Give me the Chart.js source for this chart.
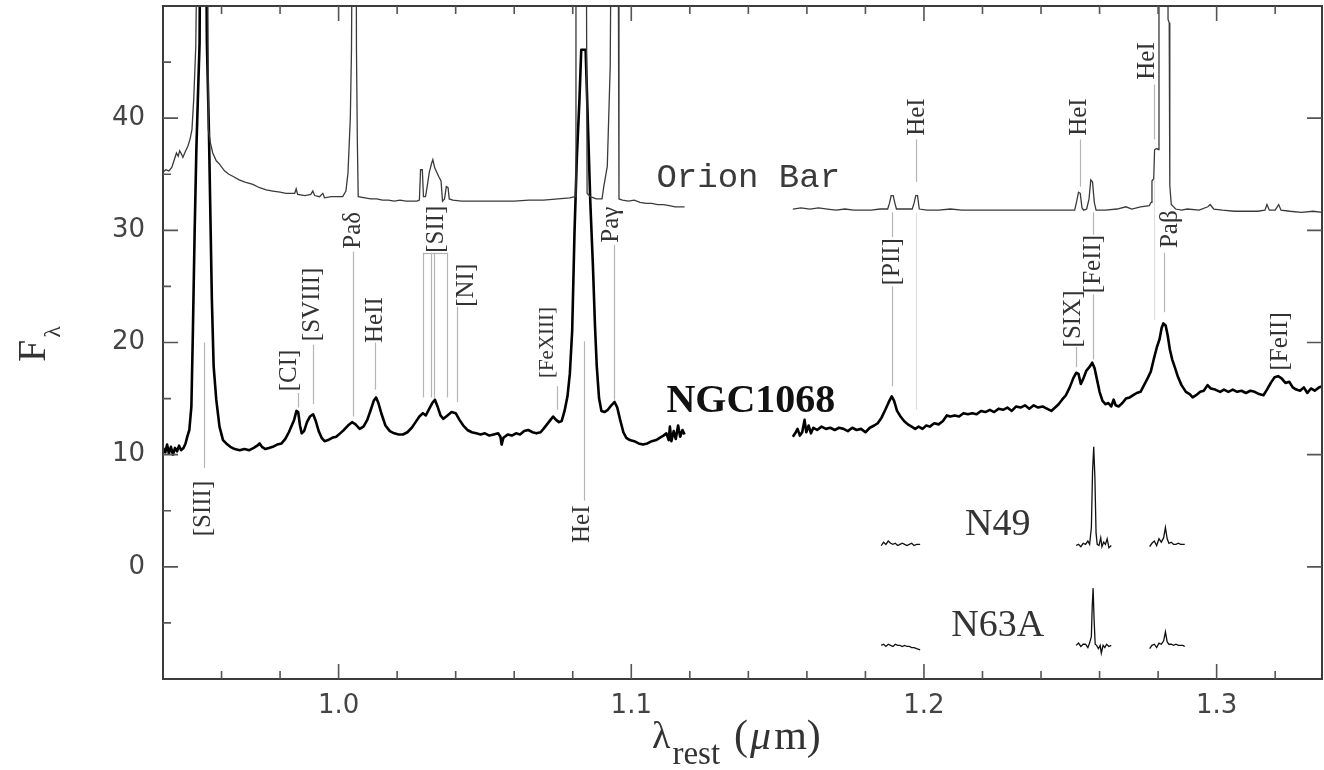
<!DOCTYPE html>
<html>
<head>
<meta charset="utf-8">
<script src="https://cdn.jsdelivr.net/npm/chart.js@4.4.1/dist/chart.umd.min.js"></script>
<style>
  html, body { margin: 0; padding: 0; background: #fff; }
  #wrap { width: 1324px; height: 770px; }
</style>
</head>
<body>
<div id="wrap"><canvas id="spec" width="1324" height="770"></canvas></div>
<script>
// axis ticks
const xTickValues = [1.0, 1.1, 1.2, 1.3];
const xMinorTicks = [0.96, 0.98, 1.02, 1.04, 1.06, 1.08, 1.12, 1.14, 1.16, 1.18, 1.22, 1.24, 1.26, 1.28, 1.32];
const yTickValues = [0, 10, 20, 30, 40];
const yMinorTicks = [-5, 5, 15, 25, 35, 45];

// NGC1068 (null = gap in coverage)
const ngcWave = [
  0.9400, 0.9408, 0.9414, 0.9420, 0.9427, 0.9434, 0.9441, 0.9448, 0.9455, 0.9462, 0.9470, 0.9477, 0.9484, 0.9490,
  0.9497, 0.9502, 0.9508, 0.9514, 0.9520, 0.9525, 0.9530, 0.9542, 0.9550, 0.9557, 0.9562, 0.9567, 0.9573, 0.9582,
  0.9593, 0.9605, 0.9616, 0.9630, 0.9645, 0.9662, 0.9678, 0.9695, 0.9710, 0.9722, 0.9730, 0.9738, 0.9750, 0.9762,
  0.9775, 0.9790, 0.9805, 0.9818, 0.9830, 0.9840, 0.9848, 0.9856, 0.9862, 0.9868, 0.9874, 0.9882, 0.9892, 0.9902,
  0.9913, 0.9922, 0.9932, 0.9942, 0.9952, 0.9964, 0.9978, 0.9992, 1.0005, 1.0018, 1.0032, 1.0046, 1.0058, 1.0072,
  1.0085, 1.0098, 1.0110, 1.0120, 1.0128, 1.0136, 1.0147, 1.0160, 1.0175, 1.0190, 1.0205, 1.0220, 1.0235, 1.0250,
  1.0263, 1.0276, 1.0288, 1.0298, 1.0310, 1.0320, 1.0329, 1.0338, 1.0348, 1.0358, 1.0372, 1.0386, 1.0400, 1.0413,
  1.0426, 1.0440, 1.0455, 1.0470, 1.0485, 1.0500, 1.0515, 1.0530, 1.0545, 1.0553, 1.0557, 1.0563, 1.0578, 1.0592,
  1.0606, 1.0620, 1.0634, 1.0648, 1.0662, 1.0676, 1.0690, 1.0700, 1.0712, 1.0724, 1.0733, 1.0743, 1.0753, 1.0762,
  1.0772, 1.0782, 1.0790, 1.0798, 1.0806, 1.0814, 1.0823, 1.0829, 1.0844, 1.0852, 1.0860, 1.0869, 1.0876, 1.0882,
  1.0890, 1.0898, 1.0908, 1.0920, 1.0932, 1.0943, 1.0952, 1.0962, 1.0973, 1.0983, 1.0995, 1.1010, 1.1025, 1.1040,
  1.1055, 1.1070, 1.1085, 1.1097, 1.1110, 1.1120, 1.1128, 1.1132, 1.1137, 1.1145, 1.1152, 1.1160, 1.1167, 1.1175,
  1.1182, 1.1350,
  1.1552, 1.1560, 1.1568, 1.1576, 1.1584, 1.1592, 1.1598, 1.1606, 1.1614, 1.1622, 1.1635, 1.1650, 1.1665, 1.1680,
  1.1695, 1.1710, 1.1725, 1.1740, 1.1755, 1.1770, 1.1785, 1.1800, 1.1815, 1.1830, 1.1842, 1.1855, 1.1868, 1.1880,
  1.1890, 1.1898, 1.1908, 1.1920, 1.1932, 1.1945, 1.1958, 1.1970, 1.1982, 1.1995, 1.2008, 1.2020, 1.2035, 1.2050,
  1.2065, 1.2078, 1.2090, 1.2105, 1.2120, 1.2135, 1.2150, 1.2165, 1.2180, 1.2195, 1.2210, 1.2225, 1.2240, 1.2255,
  1.2270, 1.2285, 1.2300, 1.2315, 1.2330, 1.2345, 1.2360, 1.2375, 1.2390, 1.2405, 1.2420, 1.2435, 1.2448, 1.2460,
  1.2472, 1.2485, 1.2498, 1.2510, 1.2520, 1.2528, 1.2536, 1.2545, 1.2555, 1.2565, 1.2575, 1.2583, 1.2592, 1.2600,
  1.2610, 1.2620, 1.2630, 1.2640, 1.2648, 1.2655, 1.2665, 1.2678, 1.2690, 1.2703, 1.2715, 1.2727, 1.2740, 1.2752,
  1.2764, 1.2775, 1.2786, 1.2796, 1.2805, 1.2812, 1.2818, 1.2826, 1.2833, 1.2840, 1.2848, 1.2857, 1.2867, 1.2880,
  1.2895, 1.2908, 1.2918, 1.2930, 1.2944, 1.2956, 1.2969, 1.2980, 1.2995, 1.3012, 1.3025, 1.3040, 1.3055, 1.3070,
  1.3085, 1.3100, 1.3115, 1.3130, 1.3145, 1.3160, 1.3172, 1.3185, 1.3198, 1.3210, 1.3222, 1.3235, 1.3248, 1.3260,
  1.3272, 1.3285, 1.3298, 1.3310, 1.3322, 1.3335, 1.3350, 1.3360
];
const ngcFlux = [
  10.6, 10.2, 10.9, 10.1, 10.7, 10.0, 10.6, 10.3, 10.8, 10.4, 10.6, 11.0, 11.7, 12.2,
  14.3, 20.8, 29.7, 37.2, 42.5, 46.7, 75.0, 75.0, 46.7, 38.7, 31.2, 23.8, 17.9, 14.9,
  12.5, 11.3, 11.0, 10.7, 10.5, 10.4, 10.5, 10.4, 10.6, 10.8, 11.0, 10.7, 10.5, 10.6,
  10.7, 10.9, 11.0, 11.4, 12.0, 12.6, 13.1, 13.9, 13.8, 12.6, 11.9, 12.1, 12.9, 13.4,
  13.6, 13.0, 12.1, 11.5, 11.2, 11.3, 11.5, 11.6, 11.9, 12.2, 12.6, 12.9, 12.7, 12.3,
  12.5, 13.1, 14.0, 14.8, 15.1, 14.6, 13.6, 12.6, 12.1, 11.9, 11.8, 11.8, 12.0, 12.4,
  12.9, 13.4, 13.7, 13.5, 14.1, 14.6, 14.9, 14.3, 13.5, 13.2, 13.5, 13.8, 13.7, 13.1,
  12.6, 12.2, 12.0, 11.9, 11.8, 11.9, 11.7, 11.8, 11.9, 11.6, 10.9, 11.5, 11.8, 11.7,
  11.9, 11.8, 12.1, 12.2, 12.0, 11.9, 12.0, 12.3, 12.7, 13.1, 13.4, 13.1, 12.9, 13.0,
  13.9, 15.2, 17.2, 21.0, 29.8, 36.5, 41.7, 46.1, 46.1, 39.3, 32.5, 26.8, 21.5, 17.9,
  15.0, 13.9, 13.8, 14.0, 14.4, 14.7, 14.2, 13.1, 12.0, 11.5, 11.3, 11.2, 11.0, 10.9,
  11.0, 11.2, 11.3, 11.5, 11.7, 11.9, 11.3, 12.5, 11.2, 12.1, 11.4, 12.6, 11.6, 12.2,
  11.8, null,
  11.6, 11.9, 12.3, 11.7, 12.0, 13.1, 12.0, 12.6, 11.9, 12.4, 12.2, 12.5, 12.3, 12.4,
  12.2, 12.4, 12.3, 12.1, 12.4, 12.2, 12.3, 12.0, 12.4, 12.6, 12.8, 13.3, 14.0, 14.7,
  15.2, 14.8, 13.9, 13.4, 13.0, 12.7, 12.5, 12.3, 12.5, 12.3, 12.6, 12.5, 12.8, 12.7,
  13.0, 13.5, 13.4, 13.5, 13.4, 13.7, 13.6, 13.7, 13.6, 13.9, 13.8, 14.0, 13.8, 14.1,
  14.0, 14.2, 13.9, 14.3, 14.2, 14.4, 14.1, 14.4, 14.2, 14.3, 14.1, 13.9, 14.2, 14.5,
  14.9, 15.3, 16.0, 16.8, 17.3, 17.2, 16.3, 16.8, 17.5, 17.8, 18.2, 17.7, 16.6, 15.6,
  14.8, 14.5, 14.6, 14.3, 14.9, 14.4, 14.3, 14.6, 15.0, 15.1, 15.3, 15.5, 15.6, 16.2,
  16.8, 17.4, 18.6, 19.6, 20.3, 21.3, 21.7, 21.5, 20.6, 19.4, 18.5, 17.8, 17.0, 16.2,
  15.6, 15.4, 15.1, 15.3, 15.6, 15.7, 16.2, 15.9, 15.8, 15.6, 15.8, 15.6, 15.8, 15.6,
  15.7, 15.5, 15.7, 15.6, 15.4, 15.3, 15.8, 16.4, 16.9, 17.0, 16.8, 16.4, 16.5, 16.0,
  15.8, 15.7, 16.0, 15.5, 15.9, 15.7, 16.0, 16.1
];

// Orion Bar
const orionWave = [
  0.9400, 0.9410, 0.9420, 0.9430, 0.9440, 0.9446, 0.9452, 0.9457, 0.9463, 0.9468, 0.9476, 0.9485, 0.9493, 0.9499,
  0.9505, 0.9512, 0.9518, 0.9522, 0.9548, 0.9552, 0.9555, 0.9562, 0.9570, 0.9582, 0.9593, 0.9610, 0.9625, 0.9640,
  0.9660, 0.9680, 0.9707, 0.9730, 0.9753, 0.9775, 0.9800, 0.9820, 0.9840, 0.9850, 0.9855, 0.9860, 0.9885, 0.9905,
  0.9912, 0.9918, 0.9935, 0.9946, 0.9952, 0.9975, 1.0000, 1.0014, 1.0025, 1.0032, 1.0040, 1.0044, 1.0047, 1.0050,
  1.0058, 1.0061, 1.0064, 1.0067, 1.0090, 1.0110, 1.0130, 1.0150, 1.0170, 1.0190, 1.0210, 1.0230, 1.0250, 1.0268,
  1.0276, 1.0280, 1.0286, 1.0290, 1.0297, 1.0302, 1.0310, 1.0318, 1.0322, 1.0328, 1.0335, 1.0342, 1.0350, 1.0355,
  1.0362, 1.0368, 1.0374, 1.0378, 1.0390, 1.0420, 1.0460, 1.0500, 1.0550, 1.0600, 1.0650, 1.0700, 1.0750, 1.0790,
  1.0808, 1.0811, 1.0815, 1.0842, 1.0846, 1.0849, 1.0860, 1.0880, 1.0900, 1.0906, 1.0918, 1.0928, 1.0932, 1.0935,
  1.0952, 1.0955, 1.0958, 1.0970, 1.0990, 1.1010, 1.1030, 1.1050, 1.1070, 1.1090, 1.1110, 1.1130, 1.1150, 1.1182,
  1.1350,
  1.1552, 1.1580, 1.1610, 1.1640, 1.1670, 1.1700, 1.1730, 1.1760, 1.1790, 1.1820, 1.1850, 1.1876, 1.1882, 1.1888,
  1.1895, 1.1900, 1.1906, 1.1930, 1.1960, 1.1966, 1.1972, 1.1978, 1.1984, 1.2010, 1.2050, 1.2090, 1.2130, 1.2170,
  1.2210, 1.2250, 1.2290, 1.2330, 1.2370, 1.2410, 1.2450, 1.2490, 1.2515, 1.2522, 1.2528, 1.2534, 1.2540, 1.2546,
  1.2556, 1.2564, 1.2570, 1.2576, 1.2582, 1.2588, 1.2620, 1.2660, 1.2690, 1.2710, 1.2740, 1.2770, 1.2776, 1.2779,
  1.2785, 1.2788, 1.2796, 1.2800, 1.2803, 1.2806, 1.2830, 1.2834, 1.2838, 1.2840, 1.2845, 1.2860, 1.2880, 1.2900,
  1.2940, 1.2970, 1.2978, 1.2990, 1.3020, 1.3060, 1.3100, 1.3140, 1.3165, 1.3172, 1.3180, 1.3200, 1.3212, 1.3220,
  1.3250, 1.3290, 1.3330, 1.3360
];
const orionFlux = [
  35.2, 35.4, 35.3, 35.6, 36.4, 36.9, 36.6, 37.1, 36.8, 36.5, 37.0, 37.5, 38.2, 39.0,
  41.7, 46.4, 60.0, 85.0, 85.0, 60.0, 39.0, 37.8, 36.9, 36.2, 35.9, 35.3, 35.0, 34.8,
  34.5, 34.3, 34.1, 33.8, 33.6, 33.5, 33.4, 33.3, 33.3, 33.3, 33.7, 33.2, 33.1, 33.2,
  33.5, 33.1, 33.0, 33.3, 32.9, 33.0, 33.0, 33.0, 33.5, 35.1, 40.0, 46.1, 60.0, 85.0,
  85.0, 46.1, 38.0, 33.0, 32.9, 32.8, 32.8, 32.7, 32.7, 32.6, 32.7, 32.6, 32.6, 32.6,
  32.7, 35.4, 35.4, 33.0, 33.0, 33.8, 35.2, 36.0, 36.3, 35.6, 35.2, 34.8, 34.4, 32.6,
  32.8, 33.9, 33.8, 32.8, 32.7, 32.6, 32.6, 32.6, 32.6, 32.6, 32.7, 32.7, 32.8, 32.9,
  33.0, 60.0, 85.0, 85.0, 60.0, 33.3, 33.0, 32.8, 32.8, 33.9, 35.7, 44.6, 60.0, 85.0,
  85.0, 60.0, 32.8, 32.7, 32.6, 32.7, 32.5, 32.4, 32.4, 32.3, 32.3, 32.2, 32.1, 32.1,
  null,
  31.9, 32.0, 31.9, 32.0, 31.9, 31.8, 31.9, 31.8, 31.8, 31.8, 31.9, 31.9, 32.4, 33.1,
  33.1, 32.5, 31.9, 31.9, 31.9, 32.4, 33.1, 33.1, 31.9, 31.8, 31.8, 31.9, 31.8, 31.8,
  31.8, 31.8, 31.8, 31.8, 31.8, 31.8, 31.8, 31.8, 31.8, 32.6, 33.4, 33.3, 32.0, 31.8,
  31.9, 32.8, 34.5, 34.3, 32.5, 31.8, 31.8, 31.9, 32.1, 31.9, 32.1, 32.2, 32.5, 34.4,
  34.6, 37.2, 37.3, 37.2, 60.0, 85.0, 85.0, 48.8, 48.5, 34.0, 32.3, 31.9, 31.8, 31.9,
  31.8, 32.1, 32.3, 31.9, 31.8, 31.7, 31.7, 31.7, 31.8, 32.3, 31.8, 31.8, 32.3, 31.8,
  31.7, 31.6, 31.7, 31.6
];

// N49 (three short windows)
const n49Wave = [
  1.1854, 1.1862, 1.1870, 1.1878, 1.1886, 1.1894, 1.1902, 1.1910, 1.1918, 1.1926, 1.1934, 1.1942, 1.1950, 1.1958,
  1.1966, 1.1975, 1.1987, 1.2200,
  1.2520, 1.2528, 1.2536, 1.2544, 1.2552, 1.2560, 1.2566, 1.2572, 1.2576, 1.2580, 1.2584, 1.2588, 1.2592, 1.2598,
  1.2604, 1.2608, 1.2614, 1.2620, 1.2626, 1.2632, 1.2640, 1.2700,
  1.2771, 1.2779, 1.2787, 1.2795, 1.2803, 1.2811, 1.2819, 1.2825, 1.2831, 1.2837, 1.2845, 1.2853, 1.2861, 1.2869,
  1.2877, 1.2885, 1.2891
];
const n49Flux = [
  1.9, 2.2, 2.0, 2.3, 2.1, 2.0, 2.1, 1.9, 2.0, 2.1, 2.0, 1.9, 2.0, 2.1,
  1.9, 2.0, 2.0, null,
  1.9, 2.0, 1.8, 2.1, 2.0, 2.3, 2.0, 3.5, 8.5, 10.7, 8.0, 3.0, 2.0, 1.9,
  2.6, 1.8, 2.2, 2.0, 2.5, 1.7, 1.9, null,
  1.8, 2.1, 2.3, 1.9, 2.5, 2.2, 2.6, 3.5, 2.5, 2.1, 2.2, 2.0, 2.0, 2.1,
  2.0, 2.0, 2.0
];

// N63A
const n63Wave = [
  1.1854, 1.1862, 1.1870, 1.1878, 1.1886, 1.1894, 1.1902, 1.1910, 1.1918, 1.1926, 1.1934, 1.1942, 1.1950, 1.1958,
  1.1966, 1.1975, 1.1987, 1.2200,
  1.2520, 1.2528, 1.2536, 1.2544, 1.2552, 1.2560, 1.2566, 1.2572, 1.2575, 1.2578, 1.2581, 1.2585, 1.2590, 1.2596,
  1.2602, 1.2606, 1.2612, 1.2618, 1.2624, 1.2632, 1.2640, 1.2700,
  1.2771, 1.2779, 1.2787, 1.2795, 1.2803, 1.2811, 1.2819, 1.2825, 1.2831, 1.2837, 1.2845, 1.2853, 1.2861, 1.2869,
  1.2877, 1.2885, 1.2891
];
const n63Flux = [
  -7.0, -6.9, -7.1, -6.9, -7.0, -7.1, -6.9, -7.0, -7.0, -7.1, -7.0, -7.1, -7.1, -7.2,
  -7.2, -7.3, -7.4, null,
  -7.0, -6.8, -7.1, -6.9, -6.9, -7.2, -6.8, -6.2, -3.5, -1.9, -4.5, -6.9, -7.0, -7.3,
  -7.0, -7.7, -7.0, -7.2, -6.9, -7.1, -7.0, null,
  -7.3, -7.0, -6.9, -7.2, -6.8, -6.9, -6.6, -5.8, -6.7, -6.9, -6.9, -7.0, -6.9, -7.0,
  -7.0, -7.0, -7.1
];

// line identifications: wl = marker position, tx = text position if shifted, ty = text centre,
// segs = marker pieces [top, bottom] in flux units
const lineIds = [
  { label: '[SIII]',  wl: 0.9539, ty: 5.2,  segs: [[20.0, 8.8]] },
  { label: '[CI]',    wl: 0.9861, tx: 0.9831, ty: 17.5, segs: [[15.5, 14.2]] },
  { label: '[SVIII]', wl: 0.9912, ty: 23.4, segs: [[19.8, 14.5]] },
  { label: 'Paδ',     wl: 1.0049, ty: 30.0, segs: [[28.1, 13.4]] },
  { label: 'HeII',    wl: 1.0126, ty: 22.0, segs: [[20.0, 15.8]] },
  { label: '[SII]',   wl: [1.0288, 1.0317, 1.0325, 1.0371], tx: 1.0334, ty: 30.1, segs: [[28.0, 15.1]], bracket: 28.0 },
  { label: '[NI]',    wl: 1.0404, tx: 1.0438, ty: 25.1, segs: [[23.2, 14.7]] },
  { label: '[FeXIII]', wl: 1.0746, tx: 1.0714, ty: 20.0, segs: [[16.1, 14.0]], small: true },
  { label: 'HeI',     wl: 1.0837, tx: 1.0832, ty: 3.8, segs: [[20.1, 5.9]] },
  { label: 'Paγ',     wl: 1.0941, tx: 1.0932, ty: 30.5, segs: [[28.7, 14.9]] },
  { label: '[PII]',   wl: 1.1892, ty: 27.2, segs: [[31.6, 29.4], [25.0, 16.1]] },
  { label: 'HeI',     wl: 1.1974, tx: 1.1978, ty: 40.1, segs: [[38.1, 34.3]], faint: [[31.6, 14.0]] },
  { label: 'HeI',     wl: 1.2532, ty: 40.1, segs: [[38.1, 33.9]] },
  { label: '[SIX]',   wl: 1.2521, tx: 1.2511, ty: 22.1, segs: [[19.6, 17.8]] },
  { label: '[FeII]',  wl: 1.2578, ty: 27.0, segs: [[31.6, 29.6], [24.3, 18.5]] },
  { label: 'HeI',     wl: 1.2787, tx: 1.2765, ty: 45.1, segs: [[43.0, 38.1]], faint: [[34.5, 22.0]] },
  { label: 'Paβ',     wl: 1.2819, tx: 1.2842, ty: 30.1, segs: [[28.0, 22.7]] },
  { label: '[FeII]',  wl: 1.3218, ty: 20.1, segs: [] }
];

// object names: [text, wavelength, flux, align]
const objectNames = [
  ['Orion Bar', 1.1086, 33.9, 'left'],
  ['NGC1068', 1.1120, 13.8, 'left'],
  ['N49', 1.2252, 2.85, 'center'],
  ['N63A', 1.2252, -6.2, 'center']
];

function toPoints(wave, flux) {
  return wave.map((w, i) => ({ x: w, y: flux[i] }));
}

const decor = {
  id: 'decor',
  beforeDatasetsDraw(chart) {
    const { ctx, scales: { x, y } } = chart;
    ctx.save();
    ctx.lineWidth = 1.2;
    for (const id of lineIds) {
      const wls = Array.isArray(id.wl) ? id.wl : [id.wl];
      for (const w of wls) {
        const px = Math.round(x.getPixelForValue(w)) + 0.5;
        ctx.strokeStyle = '#b4b4b4';
        for (const [t, b] of id.segs) {
          ctx.beginPath();
          ctx.moveTo(px, y.getPixelForValue(t));
          ctx.lineTo(px, y.getPixelForValue(b));
          ctx.stroke();
        }
        if (id.faint) {
          ctx.strokeStyle = '#dedede';
          for (const [t, b] of id.faint) {
            ctx.beginPath();
            ctx.moveTo(px, y.getPixelForValue(t));
            ctx.lineTo(px, y.getPixelForValue(b));
            ctx.stroke();
          }
        }
      }
      if (id.bracket) {
        ctx.strokeStyle = '#b4b4b4';
        const py = Math.round(y.getPixelForValue(id.bracket)) + 0.5;
        ctx.beginPath();
        ctx.moveTo(x.getPixelForValue(wls[0]), py);
        ctx.lineTo(x.getPixelForValue(wls[wls.length - 1]), py);
        ctx.stroke();
      }
    }
    ctx.restore();
  },
  afterDatasetsDraw(chart) {
    const { ctx, chartArea: a, scales: { x, y } } = chart;
    ctx.save();

    // line labels, rotated
    ctx.fillStyle = '#333';
    ctx.textAlign = 'center';
    ctx.textBaseline = 'middle';
    for (const id of lineIds) {
      const w = id.tx !== undefined ? id.tx : id.wl;
      ctx.save();
      ctx.translate(x.getPixelForValue(w), y.getPixelForValue(id.ty));
      ctx.rotate(-Math.PI / 2);
      ctx.font = (id.small ? '21px' : '25px') + ' "Liberation Serif"';
      ctx.fillText(id.label, 0, 0);
      ctx.restore();
    }

    // object names
    ctx.textBaseline = 'alphabetic';
    for (const [name, w, f, align] of objectNames) {
      ctx.textAlign = align;
      if (name === 'Orion Bar') { ctx.font = '34px "Liberation Mono"'; ctx.fillStyle = '#3a3a3a'; }
      else if (name === 'NGC1068') { ctx.font = 'bold 40px "Liberation Serif"'; ctx.fillStyle = '#111'; }
      else { ctx.font = '38px "Liberation Serif"'; ctx.fillStyle = '#333'; }
      ctx.fillText(name, x.getPixelForValue(w), y.getPixelForValue(f));
    }

    // frame and inward ticks
    ctx.strokeStyle = '#3c3c3c';
    ctx.lineWidth = 2;
    ctx.strokeRect(a.left, a.top, a.right - a.left, a.bottom - a.top);
    ctx.lineWidth = 1.6;
    ctx.strokeStyle = '#555';
    ctx.beginPath();
    for (const v of xTickValues) {
      const px = x.getPixelForValue(v);
      ctx.moveTo(px, a.bottom); ctx.lineTo(px, a.bottom - 15);
      ctx.moveTo(px, a.top); ctx.lineTo(px, a.top + 15);
    }
    for (const v of xMinorTicks) {
      const px = x.getPixelForValue(v);
      ctx.moveTo(px, a.bottom); ctx.lineTo(px, a.bottom - 8);
      ctx.moveTo(px, a.top); ctx.lineTo(px, a.top + 8);
    }
    for (const v of yTickValues) {
      const py = y.getPixelForValue(v);
      ctx.moveTo(a.left, py); ctx.lineTo(a.left + 15, py);
      ctx.moveTo(a.right, py); ctx.lineTo(a.right - 15, py);
    }
    for (const v of yMinorTicks) {
      const py = y.getPixelForValue(v);
      ctx.moveTo(a.left, py); ctx.lineTo(a.left + 8, py);
    }
    ctx.stroke();

    // axis titles
    ctx.fillStyle = '#333';
    ctx.textAlign = 'left';
    ctx.textBaseline = 'alphabetic';
    let px = 652;
    ctx.font = '38px "Liberation Serif"';
    ctx.fillText('λ', px, 748);
    px += ctx.measureText('λ').width + 2;
    ctx.font = '33px "Liberation Serif"';
    ctx.fillText('rest', px, 764);
    px += ctx.measureText('rest').width + 14;
    ctx.font = '42px "Liberation Serif"';
    ctx.fillText('(', px, 749);
    px += ctx.measureText('(').width + 2;
    ctx.font = 'italic 42px "Liberation Serif"';
    ctx.fillText('μ', px, 749);
    px += ctx.measureText('μ').width + 3;
    ctx.font = '42px "Liberation Serif"';
    ctx.fillText('m)', px, 749);

    ctx.save();
    ctx.translate(45, 362);
    ctx.rotate(-Math.PI / 2);
    ctx.font = '40px "Liberation Serif"';
    ctx.fillText('F', 0, 0);
    const fw = ctx.measureText('F').width;
    ctx.font = '24px "Liberation Serif"';
    ctx.fillText('λ', fw + 2, 15);
    ctx.restore();

    ctx.restore();
  }
};

const tickFont = { family: 'DejaVu Sans', size: 26 };

new Chart(document.getElementById('spec'), {
  type: 'line',
  data: {
    datasets: [
      { label: 'Orion Bar', data: toPoints(orionWave, orionFlux), borderColor: '#3a3a3a', borderWidth: 1.3 },
      { label: 'NGC1068', data: toPoints(ngcWave, ngcFlux), borderColor: '#000', borderWidth: 2.6, borderJoinStyle: 'round' },
      { label: 'N49', data: toPoints(n49Wave, n49Flux), borderColor: '#111', borderWidth: 1.3 },
      { label: 'N63A', data: toPoints(n63Wave, n63Flux), borderColor: '#111', borderWidth: 1.3 }
    ]
  },
  options: {
    responsive: false,
    animation: false,
    spanGaps: false,
    elements: { point: { radius: 0 }, line: { tension: 0 } },
    layout: { padding: { left: 0, right: 2, top: 6, bottom: 0 } },
    plugins: { legend: { display: false }, tooltip: { enabled: false } },
    scales: {
      x: {
        type: 'linear',
        min: 0.94,
        max: 1.336,
        grid: { display: false, drawTicks: false },
        border: { display: false },
        afterBuildTicks: (s) => { s.ticks = xTickValues.map(v => ({ value: v })); },
        afterFit: (s) => { s.height = 91; s.paddingLeft = 0; s.paddingRight = 0; },
        ticks: {
          font: tickFont,
          color: '#444',
          padding: 12,
          maxRotation: 0,
          callback: (v) => Number(v).toFixed(1)
        }
      },
      y: {
        min: -10,
        max: 50,
        grid: { display: false, drawTicks: false },
        border: { display: false },
        afterBuildTicks: (s) => { s.ticks = yTickValues.map(v => ({ value: v })); },
        afterFit: (s) => { s.width = 163; s.paddingTop = 0; s.paddingBottom = 0; },
        ticks: { font: tickFont, color: '#444', padding: 18 }
      }
    }
  },
  plugins: [decor]
});
</script>
</body>
</html>
